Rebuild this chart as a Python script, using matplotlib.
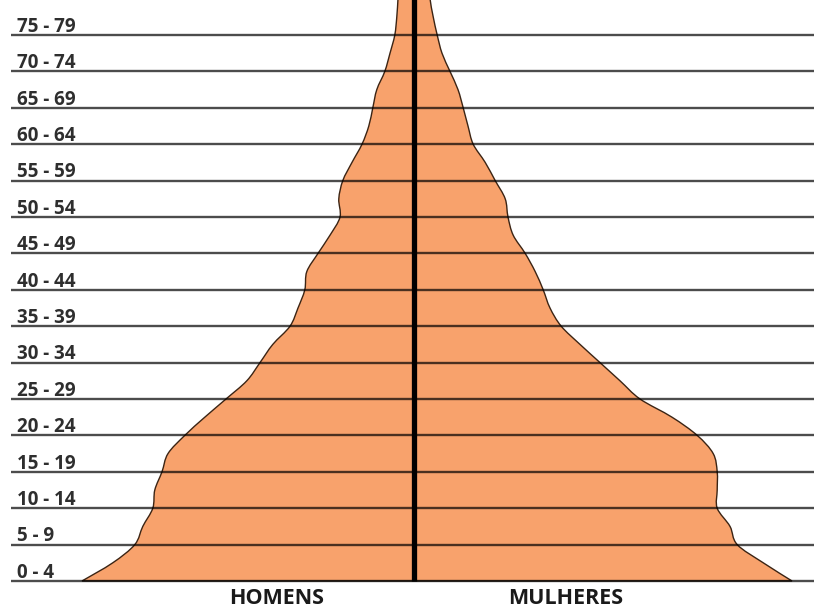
import numpy as np
import matplotlib.pyplot as plt
from matplotlib.path import Path
from matplotlib.patches import PathPatch

# contour of the pyramid, read every 2.5 years of age (arbitrary population units)
ages = [0, 2.5, 5, 7.5, 10, 12.5, 15, 17.5, 20, 22.5, 25, 27.5, 30, 32.5, 35,
        37.5, 40, 42.5, 45, 47.5, 50, 52.5, 55, 57.5, 60, 62.5, 65, 67.5, 70,
        72.5, 75, 77.5, 80, 82]
homens = [8.30, 7.53, 6.98, 6.78, 6.53, 6.48, 6.30, 6.15, 5.73, 5.23, 4.70,
          4.18, 3.85, 3.53, 3.10, 2.90, 2.73, 2.68, 2.40, 2.10, 1.85, 1.88,
          1.78, 1.55, 1.30, 1.13, 1.03, 0.93, 0.73, 0.60, 0.48, 0.43, 0.40,
          0.38]
mulheres = [9.45, 8.73, 8.08, 7.90, 7.58, 7.58, 7.58, 7.48, 7.08, 6.45, 5.65,
            5.15, 4.65, 4.15, 3.68, 3.40, 3.23, 3.03, 2.78, 2.48, 2.35, 2.28,
            2.03, 1.78, 1.48, 1.35, 1.23, 1.10, 0.90, 0.70, 0.58, 0.48, 0.40,
            0.38]

group_starts = list(range(0, 80, 5))
group_labels = [f"{a} - {a + 4}" for a in group_starts]

FILL = "#F8A26C"
FONT = ["Open Sans", "DejaVu Sans"]


def smooth_segments(pts):
    """Catmull-Rom through pts, returned as cubic bezier vertices/codes."""
    pts = np.asarray(pts, float)
    verts, codes = [], []
    n = len(pts)
    for i in range(n - 1):
        p0 = pts[max(i - 1, 0)]
        p1, p2 = pts[i], pts[i + 1]
        p3 = pts[min(i + 2, n - 1)]
        verts += [p1 + (p2 - p0) / 6, p2 - (p3 - p1) / 6, p2]
        codes += [Path.CURVE4] * 3
    return verts, codes


fig = plt.figure(figsize=(8.14, 6.09), dpi=100)
ax = fig.add_axes([0, 0, 1, 1])
ax.set_xlim(-10.35, 10.0)
ax.set_ylim(-3.85, 79.81)
ax.axis("off")

a = np.array(ages)
left = np.column_stack([-np.array(homens), a])[::-1]      # top -> bottom
right = np.column_stack([np.array(mulheres), a])          # bottom -> top
lv, lc = smooth_segments(left)
rv, rc = smooth_segments(right)
verts = [left[0]] + lv + [right[0]] + rv + [left[0]]
codes = [Path.MOVETO] + lc + [Path.LINETO] + rc + [Path.CLOSEPOLY]
ax.add_patch(PathPatch(Path(verts, codes), facecolor=FILL,
                       edgecolor="#3b2414", lw=1.0, zorder=1))

for start, lab in zip(group_starts, group_labels):
    ax.plot([-10.08, 10.0], [start, start], color="black", lw=1.7,
            alpha=0.7, solid_capstyle="butt", zorder=2)
    ax.text(-9.93, start + 0.45, lab, fontsize=13.5, fontweight="bold",
            family=FONT, color="#2e2e2e", ha="left", va="baseline", zorder=3)

ax.plot([0, 0], [0, 85], color="black", lw=3.8, solid_capstyle="butt",
        zorder=4)

ax.text(-3.43, -3.1, "HOMENS", fontsize=15.5, fontweight="bold",
        family=FONT, color="#1a1a1a", ha="center", va="baseline")
ax.text(3.78, -3.1, "MULHERES", fontsize=15.5, fontweight="bold",
        family=FONT, color="#1a1a1a", ha="center", va="baseline")

fig.savefig("out.png", dpi=100, facecolor="white")
